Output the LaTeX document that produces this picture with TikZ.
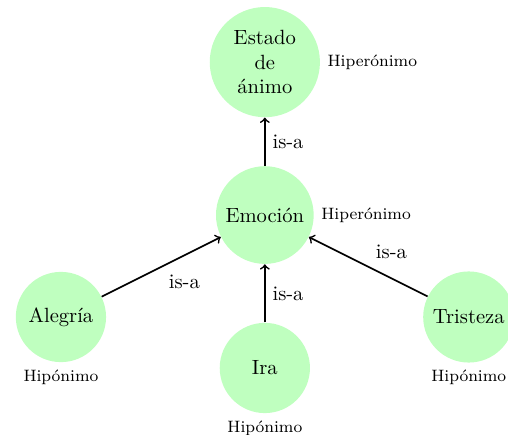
\documentclass[tikz,border=0pt]{standalone}
\usepackage{fontspec}
\usepackage{tikz}
\usetikzlibrary{positioning}

\begin{document}
\begin{tikzpicture}[on grid,
        concepto/.style={circle, fill=green!25, minimum size=1.54cm, inner sep=3.6pt, align=center},
        isa/.style={->, color = black, thick},
        nota/.style={font=\footnotesize, label distance=0pt}]
      \useasboundingbox (-4.52,1.06) rectangle (4.15,-6.35);
      \node[concepto, label={[nota]right:Hiperónimo}] (estado) at (0,0) {Estado\\de\\ánimo};
      \node[concepto, below=2.61cm of estado, label={[nota]right:Hiperónimo}] (emocion) {Emoción};
%      hipónimos
        \node[concepto, below left=1.74cm and 3.48cm of emocion, label={[nota]below:Hipónimo}] (alegria) {Alegría};
        \node[concepto, below=2.61cm of emocion, label={[nota]below:Hipónimo}] (ira) {Ira};
        \node[concepto, below right=1.74cm and 3.48cm of emocion, label={[nota]below:Hipónimo}] (tristeza) {Tristeza};
        \draw [isa] (emocion) -- node[right] {is-a} (estado);
        \draw [isa] (alegria) -- node[below right] {is-a} (emocion);
        \draw [isa] (ira) -- node[right] {is-a} (emocion);
        \draw [isa] (tristeza) -- node[above right] {is-a} (emocion);
\end{tikzpicture}
\end{document}
